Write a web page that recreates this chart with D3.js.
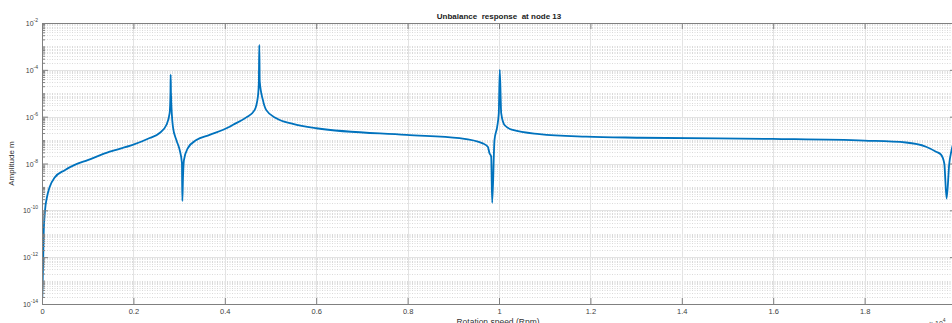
<!DOCTYPE html>
<html><head><meta charset="utf-8">
<script src="https://cdn.jsdelivr.net/npm/d3@7/dist/d3.min.js"></script>
<style>
body{margin:0;background:#fff;}
svg{display:block;font-family:"Liberation Sans",Arial,sans-serif;}
</style></head>
<body><svg id="chart" width="952" height="323"></svg>
<script>
// ---- data ----
const rpm = [7, 26, 37, 66, 103, 168, 278, 497, 715, 1000, 1481, 1984, 2356, 2574, 2721, 2793, 2811, 2815, 2822, 2865, 2940, 3012, 3062, 3071, 3085, 3106, 3193, 3377, 3668, 4105, 4171, 4471, 4652, 4724, 4745, 4755, 4764, 4834, 4908, 5127, 5490, 6002, 7970, 9136, 9646, 9755, 9792, 9829, 9851, 9901, 9960, 9995, 10017, 10048, 10120, 10302, 10886, 11907, 13073, 15982, 17994, 18906, 19344, 19563, 19672, 19744, 19794, 19853, 19896, 19960];
const amplitude = [2.0e-14, 7.6e-13, 1.0e-11, 1.0e-10, 3.2e-10, 1.0e-9, 2.5e-9, 5.2e-9, 8.7e-9, 1.4e-8, 3.2e-8, 6.2e-8, 1.23e-7, 2.0e-7, 4.4e-7, 1.4e-6, 1.0e-5, 6.3e-5, 1.0e-5, 3.7e-7, 1.0e-7, 3.8e-8, 1.05e-8, 2.5e-10, 2.5e-9, 1.4e-8, 4.6e-8, 1.0e-7, 1.66e-7, 3.7e-7, 4.4e-7, 9.3e-7, 1.9e-6, 7.1e-6, 3.2e-5, 1.15e-3, 3.2e-5, 5.1e-6, 1.9e-6, 8.5e-7, 4.9e-7, 3.2e-7, 1.66e-7, 1.2e-7, 7.2e-8, 5.2e-8, 2.75e-8, 1.95e-8, 2.1e-10, 1.0e-7, 3.7e-7, 1.4e-6, 1.0e-4, 1.4e-6, 4.4e-7, 2.7e-7, 1.8e-7, 1.4e-7, 1.26e-7, 1.12e-7, 9.5e-8, 7.9e-8, 5.2e-8, 3.2e-8, 2.4e-8, 1.0e-8, 3.2e-10, 1.0e-8, 3.2e-8, 1.0e-7];
const xTicks = [0, 2000, 4000, 6000, 8000, 10000, 12000, 14000, 16000, 18000, 20000];
const xTickLabels = ["0", "0.2", "0.4", "0.6", "0.8", "1", "1.2", "1.4", "1.6", "1.8", "2"];
const yTickExponents = [-14, -12, -10, -8, -6, -4, -2];
const titleText = "Unbalance  response  at node 13";
const xLabel = "Rotation speed (Rpm)";
const yLabel = "Amplitude m";

// ---- layout ----
const W = 952;
const L = 42, R = 956, T = 23, B = 304;
const svg = d3.select("#chart");
const x = d3.scaleLinear().domain([0, 20000]).range([L, R]);
const y = d3.scaleLog().domain([1e-14, 1e-2]).range([B, T]);

// minor y values
const yMinor = [];
for (let e = -14; e < -2; e++) for (let k = 1; k <= 9; k++) {
  const v = k * Math.pow(10, e);
  if (!(k === 1 && e % 2 === 0)) yMinor.push(v);
}
const yMajor = yTickExponents.map(e => Math.pow(10, e));

const grid = svg.append("g");
grid.selectAll("line.ymin").data(yMinor).join("line")
  .attr("x1", L).attr("x2", R).attr("y1", d => Math.round(y(d)) + 0.5).attr("y2", d => Math.round(y(d)) + 0.5)
  .attr("stroke", "#dadada").attr("stroke-width", 1).attr("stroke-dasharray", "1,1.5");
grid.selectAll("line.ymaj").data(yMajor).join("line")
  .attr("x1", L).attr("x2", R).attr("y1", d => Math.round(y(d)) + 0.5).attr("y2", d => Math.round(y(d)) + 0.5)
  .attr("stroke", "#e3e3e3").attr("stroke-width", 1);
grid.selectAll("line.xmaj").data(xTicks).join("line")
  .attr("y1", T).attr("y2", B).attr("x1", d => Math.round(x(d)) + 0.5).attr("x2", d => Math.round(x(d)) + 0.5)
  .attr("stroke", "#e3e3e3").attr("stroke-width", 1);

// curve
svg.append("clipPath").attr("id", "clip").append("rect")
  .attr("x", L).attr("y", T).attr("width", R - L).attr("height", B - T);
const pts = rpm.map((r, i) => [r, amplitude[i]]);
svg.append("path").datum(pts)
  .attr("clip-path", "url(#clip)")
  .attr("fill", "none").attr("stroke", "#0072BD").attr("stroke-width", 1.8)
  .attr("stroke-linejoin", "round")
  .attr("d", d3.line().x(d => x(d[0])).y(d => y(d[1])).curve(d3.curveMonotoneX));

// axes
const axCol = "#808080";
const fmtX = (d) => (x(d) > W - 6 ? "" : xTickLabels[xTicks.indexOf(d)]);
const gB = svg.append("g").attr("transform", `translate(0,${B})`)
  .call(d3.axisBottom(x).tickValues(xTicks).tickSizeInner(-6).tickSizeOuter(0).tickPadding(5).tickFormat(fmtX));
const gT = svg.append("g").attr("transform", `translate(0,${T})`)
  .call(d3.axisTop(x).tickValues(xTicks).tickSizeInner(-6).tickSizeOuter(0).tickFormat(""));
const gL = svg.append("g").attr("transform", `translate(${L},0)`)
  .call(d3.axisLeft(y).tickValues(yMajor).tickSizeInner(-6).tickSizeOuter(0).tickFormat(""));
const gLm = svg.append("g").attr("transform", `translate(${L},0)`)
  .call(d3.axisLeft(y).tickValues(yMinor).tickSizeInner(-3).tickSizeOuter(0).tickFormat(""));
const gR = svg.append("g").attr("transform", `translate(${R},0)`)
  .call(d3.axisRight(y).tickValues(yMajor).tickSizeInner(-6).tickSizeOuter(0).tickFormat(""));
const gRm = svg.append("g").attr("transform", `translate(${R},0)`)
  .call(d3.axisRight(y).tickValues(yMinor).tickSizeInner(-3).tickSizeOuter(0).tickFormat(""));
[gB, gT, gL, gLm, gR, gRm].forEach(g => {
  g.select(".domain").attr("stroke", axCol);
  g.selectAll(".tick line").attr("stroke", axCol);
});
gLm.select(".domain").remove(); gRm.select(".domain").remove();
gB.selectAll(".tick text").attr("fill", "#404040").style("font-size", "7.5px").attr("dy", "0.6em");

// y tick labels with superscripts
const yl = svg.append("g");
yTickExponents.forEach(e => {
  const t = yl.append("text").attr("x", 38).attr("y", y(Math.pow(10, e)) + 3)
    .attr("text-anchor", "end").attr("fill", "#404040").style("font-size", "7px");
  t.append("tspan").text("10");
  t.append("tspan").attr("dy", -4).style("font-size", "5px").text(String(e));
});

// title
svg.append("text").attr("x", 499).attr("y", 19).attr("text-anchor", "middle")
  .style("font-size", "8px").style("font-weight", "bold").attr("fill", "#222")
  .attr("xml:space", "preserve").style("white-space", "pre").text(titleText);
// x label
svg.append("text").attr("x", 498).attr("y", 325).attr("text-anchor", "middle")
  .style("font-size", "8.5px").attr("fill", "#333").text(xLabel);
// y label
svg.append("text").attr("transform", `translate(14,${(T + B) / 2}) rotate(-90)`)
  .attr("text-anchor", "middle").style("font-size", "8px").attr("fill", "#333").text(yLabel);
// x exponent
const ex = svg.append("text").attr("x", 929).attr("y", 326).attr("fill", "#404040").style("font-size", "7px");
ex.append("tspan").text("\u00d7 10");
ex.append("tspan").attr("dy", -4).style("font-size", "5px").text("4");
</script></body></html>
